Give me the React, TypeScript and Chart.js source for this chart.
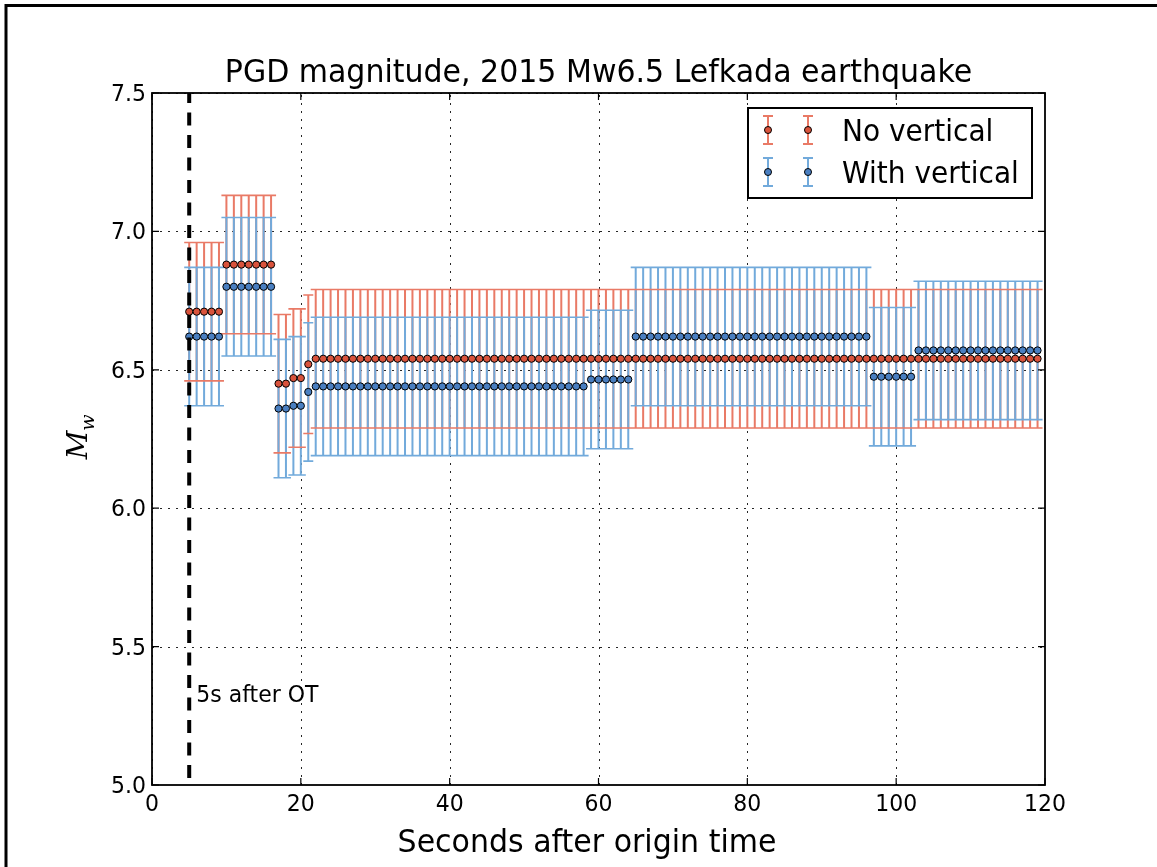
import React, { useEffect, useRef } from "react";
import { Chart, registerables } from "chart.js";

Chart.register(...registerables);

// ---------------- data ----------------
const seconds = [
  5, 6, 7, 8, 9, 10, 11, 12, 13, 14, 15, 16, 17, 18, 19, 20, 21, 22, 23, 24,
  25, 26, 27, 28, 29, 30, 31, 32, 33, 34, 35, 36, 37, 38, 39, 40, 41, 42, 43, 44,
  45, 46, 47, 48, 49, 50, 51, 52, 53, 54, 55, 56, 57, 58, 59, 60, 61, 62, 63, 64,
  65, 66, 67, 68, 69, 70, 71, 72, 73, 74, 75, 76, 77, 78, 79, 80, 81, 82, 83, 84,
  85, 86, 87, 88, 89, 90, 91, 92, 93, 94, 95, 96, 97, 98, 99, 100, 101, 102, 103, 104,
  105, 106, 107, 108, 109, 110, 111, 112, 113, 114, 115, 116, 117, 118, 119,
];

const noVertical = [
  6.71, 6.71, 6.71, 6.71, 6.71, 6.88, 6.88, 6.88, 6.88, 6.88, 6.88, 6.88, 6.45, 6.45, 6.47, 6.47, 6.52, 6.54, 6.54, 6.54,
  6.54, 6.54, 6.54, 6.54, 6.54, 6.54, 6.54, 6.54, 6.54, 6.54, 6.54, 6.54, 6.54, 6.54, 6.54, 6.54, 6.54, 6.54, 6.54, 6.54,
  6.54, 6.54, 6.54, 6.54, 6.54, 6.54, 6.54, 6.54, 6.54, 6.54, 6.54, 6.54, 6.54, 6.54, 6.54, 6.54, 6.54, 6.54, 6.54, 6.54,
  6.54, 6.54, 6.54, 6.54, 6.54, 6.54, 6.54, 6.54, 6.54, 6.54, 6.54, 6.54, 6.54, 6.54, 6.54, 6.54, 6.54, 6.54, 6.54, 6.54,
  6.54, 6.54, 6.54, 6.54, 6.54, 6.54, 6.54, 6.54, 6.54, 6.54, 6.54, 6.54, 6.54, 6.54, 6.54, 6.54, 6.54, 6.54, 6.54, 6.54,
  6.54, 6.54, 6.54, 6.54, 6.54, 6.54, 6.54, 6.54, 6.54, 6.54, 6.54, 6.54, 6.54, 6.54, 6.54,
];

const withVertical = [
  6.62, 6.62, 6.62, 6.62, 6.62, 6.8, 6.8, 6.8, 6.8, 6.8, 6.8, 6.8, 6.36, 6.36, 6.37, 6.37, 6.42, 6.44, 6.44, 6.44,
  6.44, 6.44, 6.44, 6.44, 6.44, 6.44, 6.44, 6.44, 6.44, 6.44, 6.44, 6.44, 6.44, 6.44, 6.44, 6.44, 6.44, 6.44, 6.44, 6.44,
  6.44, 6.44, 6.44, 6.44, 6.44, 6.44, 6.44, 6.44, 6.44, 6.44, 6.44, 6.44, 6.44, 6.44, 6.465, 6.465, 6.465, 6.465, 6.465, 6.465,
  6.62, 6.62, 6.62, 6.62, 6.62, 6.62, 6.62, 6.62, 6.62, 6.62, 6.62, 6.62, 6.62, 6.62, 6.62, 6.62, 6.62, 6.62, 6.62, 6.62,
  6.62, 6.62, 6.62, 6.62, 6.62, 6.62, 6.62, 6.62, 6.62, 6.62, 6.62, 6.62, 6.475, 6.475, 6.475, 6.475, 6.475, 6.475, 6.57, 6.57,
  6.57, 6.57, 6.57, 6.57, 6.57, 6.57, 6.57, 6.57, 6.57, 6.57, 6.57, 6.57, 6.57, 6.57, 6.57,
];

const noVerticalError = 0.25;
const withVerticalError = 0.25;

const xTicks = [0, 20, 40, 60, 80, 100, 120];
const yTicks = [5.0, 5.5, 6.0, 6.5, 7.0, 7.5];
const xTickLabels = ["0", "20", "40", "60", "80", "100", "120"];
const yTickLabels = ["5.0", "5.5", "6.0", "6.5", "7.0", "7.5"];
const markerTime = 5;
const markerText = "5s after OT";
const titleText = "PGD magnitude, 2015 Mw6.5 Lefkada earthquake";
const xLabel = "Seconds after origin time";
const legendLabels = ["No vertical", "With vertical"];

// ---------------- styles ----------------
const RED_LINE = "#e97a66";
const RED_FILL = "#d9533c";
const BLUE_LINE = "#72aadb";
const BLUE_FILL = "#4a7fc1";
const SANS = "'DejaVu Sans', sans-serif";
const STRETCH = 1.06;

function stretchedText(
  ctx: CanvasRenderingContext2D,
  text: string,
  x: number,
  y: number,
  size: number,
  align: CanvasTextAlign
) {
  ctx.save();
  ctx.translate(x, y);
  ctx.scale(1, STRETCH);
  ctx.font = `${size}px ${SANS}`;
  ctx.textAlign = align;
  ctx.textBaseline = "alphabetic";
  ctx.fillStyle = "#000";
  ctx.fillText(text, 0, 0);
  ctx.restore();
}

const decorPlugin = {
  id: "decor",
  beforeDatasetsDraw(chart: any) {
    const { ctx, chartArea: a, scales } = chart;
    const xs = scales.x;
    const ys = scales.y;
    ctx.save();
    ctx.beginPath();
    ctx.rect(a.left, a.top, a.right - a.left, a.bottom - a.top);
    ctx.clip();
    // grid
    ctx.strokeStyle = "rgba(0,0,0,0.85)";
    ctx.lineWidth = 1;
    ctx.setLineDash([2, 6]);
    for (const v of xTicks) {
      const px = Math.round(xs.getPixelForValue(v)) + 0.5;
      ctx.beginPath();
      ctx.moveTo(px, a.bottom);
      ctx.lineTo(px, a.top);
      ctx.stroke();
    }
    for (const v of yTicks) {
      const py = Math.round(ys.getPixelForValue(v)) + 0.5;
      ctx.beginPath();
      ctx.moveTo(a.left, py);
      ctx.lineTo(a.right, py);
      ctx.stroke();
    }
    ctx.setLineDash([]);
    // error bars
    const series = [
      { vals: noVertical, err: noVerticalError, color: RED_LINE },
      { vals: withVertical, err: withVerticalError, color: BLUE_LINE },
    ];
    ctx.lineWidth = 2;
    for (const s of series) {
      ctx.strokeStyle = s.color;
      ctx.beginPath();
      s.vals.forEach((v, i) => {
        const px = xs.getPixelForValue(seconds[i]);
        ctx.moveTo(px, ys.getPixelForValue(v + s.err));
        ctx.lineTo(px, ys.getPixelForValue(v - s.err));
      });
      ctx.stroke();
    }
    ctx.lineWidth = 1.6;
    for (const s of series) {
      ctx.strokeStyle = s.color;
      ctx.beginPath();
      s.vals.forEach((v, i) => {
        const px = xs.getPixelForValue(seconds[i]);
        for (const e of [v + s.err, v - s.err]) {
          const py = ys.getPixelForValue(e);
          ctx.moveTo(px - 5, py);
          ctx.lineTo(px + 5, py);
        }
      });
      ctx.stroke();
    }
    ctx.restore();
  },
  afterDatasetsDraw(chart: any) {
    const { ctx, chartArea: a, scales } = chart;
    const xs = scales.x;
    const ys = scales.y;
    ctx.save();
    // dashed vertical line
    const mx = xs.getPixelForValue(markerTime);
    ctx.strokeStyle = "#000";
    ctx.lineWidth = 4;
    ctx.setLineDash([13, 9.5]);
    ctx.lineDashOffset = 15.5;
    ctx.beginPath();
    ctx.moveTo(mx, a.bottom);
    ctx.lineTo(mx, a.top);
    ctx.stroke();
    ctx.setLineDash([]);
    ctx.lineDashOffset = 0;
    // marker text
    stretchedText(ctx, markerText, mx + 7, 702, 22, "left");
    // axes box
    ctx.strokeStyle = "#000";
    ctx.lineWidth = 1.8;
    ctx.strokeRect(a.left, a.top, a.right - a.left, a.bottom - a.top);
    // inward ticks
    ctx.lineWidth = 1.2;
    ctx.beginPath();
    for (const v of xTicks) {
      const px = xs.getPixelForValue(v);
      ctx.moveTo(px, a.bottom);
      ctx.lineTo(px, a.bottom - 7);
      ctx.moveTo(px, a.top);
      ctx.lineTo(px, a.top + 7);
    }
    for (const v of yTicks) {
      const py = ys.getPixelForValue(v);
      ctx.moveTo(a.left, py);
      ctx.lineTo(a.left + 7, py);
      ctx.moveTo(a.right, py);
      ctx.lineTo(a.right - 7, py);
    }
    ctx.stroke();
    // tick labels
    xTicks.forEach((v, i) => {
      stretchedText(ctx, xTickLabels[i], xs.getPixelForValue(v), a.bottom + 26, 22, "center");
    });
    yTicks.forEach((v, i) => {
      stretchedText(ctx, yTickLabels[i], a.left - 6, ys.getPixelForValue(v) + 8, 22, "right");
    });
    // legend
    const lx = 748, ly = 108, lw = 284, lh = 90;
    ctx.fillStyle = "#fff";
    ctx.fillRect(lx, ly, lw, lh);
    ctx.strokeStyle = "#000";
    ctx.lineWidth = 2;
    ctx.strokeRect(lx, ly, lw, lh);
    const rows = [
      { y: 130, base: 141, line: RED_LINE, fill: RED_FILL },
      { y: 172, base: 183, line: BLUE_LINE, fill: BLUE_FILL },
    ];
    rows.forEach((r, i) => {
      for (const cx of [768, 808]) {
        ctx.strokeStyle = r.line;
        ctx.lineWidth = 2;
        ctx.beginPath();
        ctx.moveTo(cx, r.y - 14);
        ctx.lineTo(cx, r.y + 14);
        ctx.moveTo(cx - 5, r.y - 14);
        ctx.lineTo(cx + 5, r.y - 14);
        ctx.moveTo(cx - 5, r.y + 14);
        ctx.lineTo(cx + 5, r.y + 14);
        ctx.stroke();
        ctx.beginPath();
        ctx.arc(cx, r.y, 3.5, 0, Math.PI * 2);
        ctx.fillStyle = r.fill;
        ctx.fill();
        ctx.strokeStyle = "#000";
        ctx.lineWidth = 1;
        ctx.stroke();
      }
      stretchedText(ctx, legendLabels[i], 842, r.base, 28, "left");
    });
    // title
    stretchedText(ctx, titleText, (a.left + a.right) / 2, 82, 30, "center");
    // x label
    stretchedText(ctx, xLabel, 587, 852, 30, "center");
    // y label M_w
    ctx.save();
    ctx.fillStyle = "#000";
    ctx.translate(87, 439);
    ctx.rotate(-Math.PI / 2);
    ctx.font = `italic 28px 'DejaVu Serif', serif`;
    ctx.textAlign = "left";
    ctx.textBaseline = "alphabetic";
    const mW = ctx.measureText("M").width;
    const wW = 12;
    const total = mW + wW;
    ctx.fillText("M", -total / 2, 0);
    ctx.font = `italic 19px 'DejaVu Serif', serif`;
    ctx.fillText("w", -total / 2 + mW, 7);
    ctx.restore();
    // figure border
    ctx.strokeStyle = "#000";
    ctx.lineWidth = 3;
    ctx.beginPath();
    ctx.moveTo(6, 867);
    ctx.lineTo(6, 5.5);
    ctx.lineTo(1157, 5.5);
    ctx.stroke();
    ctx.restore();
  },
};

export default function App() {
  const canvasRef = useRef<HTMLCanvasElement | null>(null);

  useEffect(() => {
    const canvas = canvasRef.current;
    if (!canvas) return;
    const chart = new Chart(canvas, {
      type: "scatter",
      data: {
        datasets: [
          {
            label: legendLabels[0],
            data: seconds.map((t, i) => ({ x: t, y: noVertical[i] })),
            pointRadius: 3.6,
            pointBackgroundColor: RED_FILL,
            pointBorderColor: "#000",
            pointBorderWidth: 1,
            showLine: false,
          },
          {
            label: legendLabels[1],
            data: seconds.map((t, i) => ({ x: t, y: withVertical[i] })),
            pointRadius: 3.6,
            pointBackgroundColor: BLUE_FILL,
            pointBorderColor: "#000",
            pointBorderWidth: 1,
            showLine: false,
          },
        ],
      },
      options: {
        animation: false,
        responsive: true,
        maintainAspectRatio: false,
        events: [],
        layout: { padding: { left: 0, top: 93, right: 112, bottom: 0 } },
        plugins: {
          legend: { display: false },
          tooltip: { enabled: false },
          title: { display: false },
        },
        scales: {
          x: {
            type: "linear",
            min: 0,
            max: 120,
            afterBuildTicks: (scale: any) => {
              scale.ticks = xTicks.map((v) => ({ value: v }));
            },
            afterFit: (scale: any) => {
              scale.height = 82;
            },
            grid: { display: false, drawTicks: false },
            border: { display: false },
            ticks: { display: false },
          },
          y: {
            type: "linear",
            min: 5,
            max: 7.5,
            afterBuildTicks: (scale: any) => {
              scale.ticks = yTicks.map((v) => ({ value: v }));
            },
            afterFit: (scale: any) => {
              scale.width = 152;
            },
            grid: { display: false, drawTicks: false },
            border: { display: false },
            ticks: { display: false },
          },
        },
      },
      plugins: [decorPlugin],
    });
    return () => chart.destroy();
  }, []);

  return (
    <div
      style={{
        position: "fixed",
        left: 0,
        top: 0,
        width: 1157,
        height: 867,
        background: "#fff",
      }}
    >
      <canvas ref={canvasRef} />
    </div>
  );
}
